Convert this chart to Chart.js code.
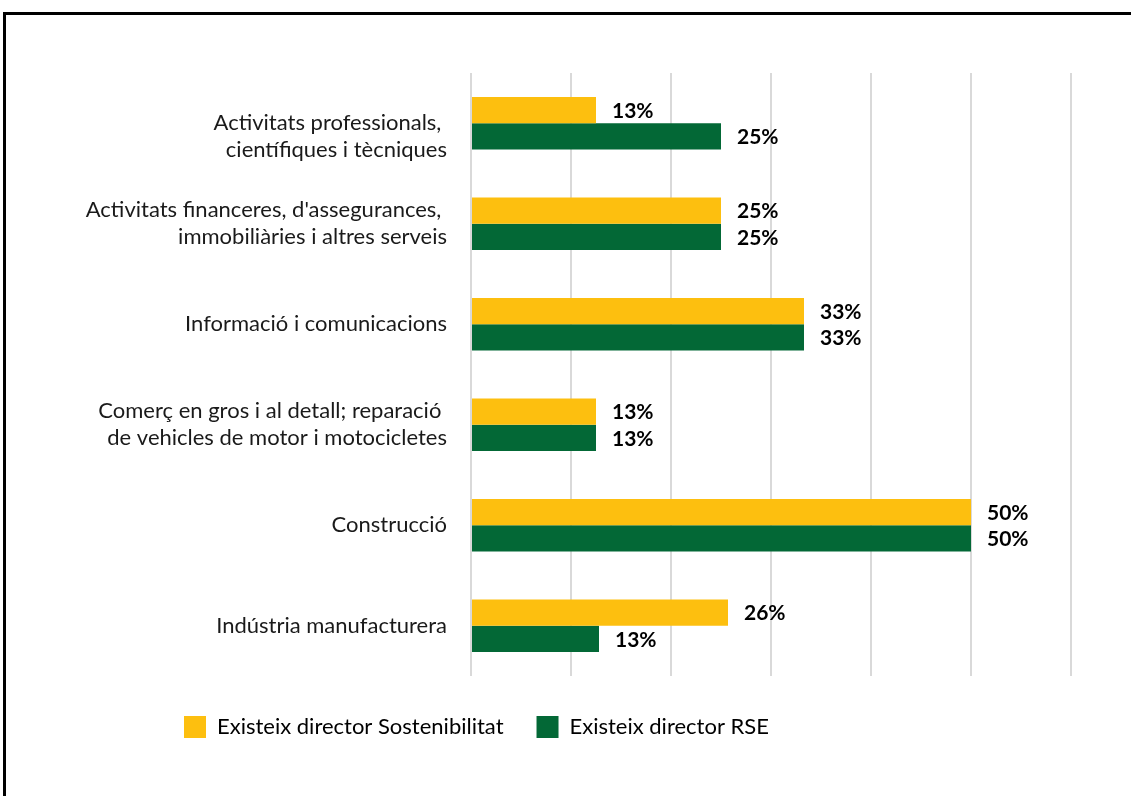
<!DOCTYPE html>
<html>
<head>
<meta charset="utf-8">
<script src="https://cdn.jsdelivr.net/npm/chart.js@4"></script>
<style>
  html, body { margin: 0; padding: 0; background: #fff; overflow: hidden; }
  #wrap { position: relative; width: 1131px; height: 796px; }
  #frame { position: absolute; left: 3px; top: 12px; width: 1200px; height: 900px;
           border-top: 3px solid #000; border-left: 3px solid #000; pointer-events: none; }
  canvas { position: absolute; left: 0; top: 0; }
</style>
</head>
<body>
<div id="wrap">
  <canvas id="chart" width="1131" height="796"></canvas>
  <div id="frame"></div>
</div>
<script>
const sectors = [
  ["", "Activitats professionals, ", "científiques i tècniques"],
  ["Activitats financeres, d'assegurances, ", "immobiliàries i altres serveis"],
  "Informació i comunicacions",
  ["Comerç en gros i al detall; reparació ", "de vehicles de motor i motocicletes"],
  "Construcció",
  "Indústria manufacturera"
];
const sostenibilitat = [12.5, 25, 33.3, 12.5, 50, 25.7];
const rse = [25, 25, 33.3, 12.5, 50, 12.8];
const seriesNames = ["Existeix director Sostenibilitat", "Existeix director RSE"];

const FONT = "Lato, 'Open Sans', sans-serif";

// value labels at the end of each bar
const valueLabels = {
  id: "valueLabels",
  afterDatasetsDraw(chart) {
    const ctx = chart.ctx;
    ctx.save();
    ctx.font = "bold 21px " + FONT;
    ctx.fillStyle = "#000";
    ctx.textBaseline = "middle";
    ctx.textAlign = "left";
    chart.data.datasets.forEach((ds, i) => {
      chart.getDatasetMeta(i).data.forEach((bar, j) => {
        ctx.fillText(Math.round(ds.data[j]) + "%", bar.x + 16, bar.y + 1);
      });
    });
    ctx.restore();
  }
};

// move legend start to line up like the original
const legendShift = {
  id: "legendShift",
  afterLayout(chart) {
    chart.legend.left = 151;
  }
};

new Chart(document.getElementById("chart"), {
  type: "bar",
  data: {
    labels: sectors,
    datasets: [
      { label: seriesNames[0], data: sostenibilitat, backgroundColor: "#FDBF0F" },
      { label: seriesNames[1], data: rse, backgroundColor: "#036836" }
    ]
  },
  options: {
    indexAxis: "y",
    responsive: false,
    animation: false,
    categoryPercentage: 0.52,
    barPercentage: 1,
    layout: { padding: { left: 40, right: 60, top: 73, bottom: 48 } },
    plugins: {
      legend: {
        position: "bottom",
        align: "start",
        labels: {
          boxWidth: 22,
          boxHeight: 22,
          padding: 33,
          color: "#000",
          font: { family: FONT, size: 22 }
        }
      },
      tooltip: { enabled: false }
    },
    scales: {
      x: {
        min: 0,
        max: 60,
        ticks: { display: false, stepSize: 10 },
        grid: { color: "#d9d9d9", lineWidth: 2, drawTicks: false },
        border: { display: false },
        afterFit(scale) { scale.height = 7; }
      },
      y: {
        ticks: {
          color: "#1a1a1a",
          padding: 24,
          font: { family: FONT, size: 22, lineHeight: 1.23 }
        },
        grid: { display: false, drawTicks: false },
        border: { display: false },
        afterFit(scale) { scale.width = 471 - 40; }
      }
    }
  },
  plugins: [valueLabels, legendShift]
});
</script>
</body>
</html>
